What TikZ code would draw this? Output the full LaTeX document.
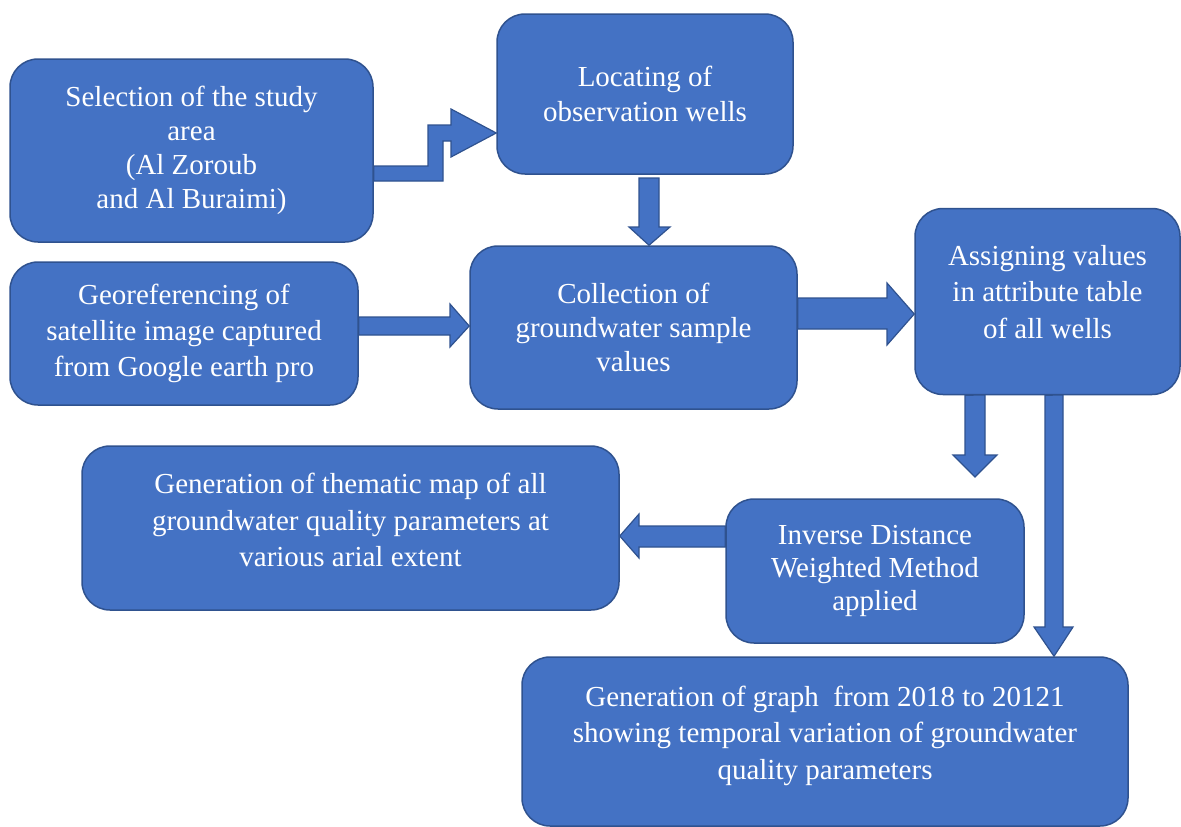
\documentclass[tikz,border=0pt]{standalone}
\usepackage{fontspec}
\setmainfont{Liberation Serif}
\definecolor{boxfill}{HTML}{4472C4}
\definecolor{boxline}{HTML}{2F528F}
\tikzset{
  flowbox/.style={draw=boxline, fill=boxfill, line width=1.5pt, rounded corners=28pt,
    text=white, align=center, inner sep=0pt,
    font=\fontsize{29}{35}\selectfont},
  blockarrow/.style={draw=boxline, fill=boxfill, line width=1.2pt, line join=miter}
}
\begin{document}
\begin{tikzpicture}[x=1pt,y=-1pt]
\useasboundingbox (0,0) rectangle (1181,827);
% boxes
\node[flowbox, minimum width=363pt, minimum height=183pt, font=\fontsize{29}{34}\selectfont] (sel) at (191.5,150.5)
  {Selection of the study\\area\\(Al Zoroub\\and Al Buraimi)};
\node[flowbox, minimum width=296pt, minimum height=160pt] (loc) at (645,94)
  {Locating of\\observation wells};
\node[flowbox, minimum width=348pt, minimum height=143pt, font=\fontsize{29}{36}\selectfont] (geo) at (184,333.5)
  {Georeferencing of\\satellite image captured\\from Google earth pro};
\node[flowbox, minimum width=327pt, minimum height=163pt, font=\fontsize{29}{34}\selectfont] (col) at (633.5,327.5)
  {Collection of\\groundwater sample\\values};
\node[flowbox, minimum width=265pt, minimum height=186pt, text depth=20pt, font=\fontsize{29}{36.5}\selectfont] (asg) at (1047.5,301.5)
  {Assigning values\\in attribute table\\of all wells};
\node[flowbox, minimum width=537pt, minimum height=164pt, text depth=16pt, font=\fontsize{29}{36.5}\selectfont] (the) at (350.5,528)
  {Generation of thematic map of all\\groundwater quality parameters at\\various arial extent};
\node[flowbox, minimum width=298pt, minimum height=144pt, font=\fontsize{29}{33}\selectfont] (idw) at (875,571)
  {Inverse Distance\\Weighted Method\\applied};
\node[flowbox, minimum width=606pt, minimum height=169pt, text depth=18pt, font=\fontsize{29}{36.5}\selectfont] (gra) at (825,741.5)
  {Generation of graph\ \ from 2018 to 20121\\showing temporal variation of groundwater\\quality parameters};
% bent arrow: selection -> locating
\draw[blockarrow] (sel.east |- 0,166) -- (428,166) -- (428,125) -- (451,125) -- (451,109)
  -- (loc.west |- 0,133) -- (451,157) -- (451,141) -- (443,141) -- (443,181) -- (sel.east |- 0,181) -- cycle;
% locating -> collection
\draw[blockarrow] (639,178) -- (659,178) -- (659,227) -- (670,227) -- (col.north -| 649,0)
  -- (629,227) -- (639,227) -- cycle;
% georef -> collection
\draw[blockarrow] (geo.east |- 0,317) -- (450,317) -- (450,304) -- (col.west |- 0,326)
  -- (450,347) -- (450,335) -- (geo.east |- 0,335) -- cycle;
% collection -> assigning
\draw[blockarrow] (col.east |- 0,298) -- (887,298) -- (887,283) -- (asg.west |- 0,314)
  -- (887,345) -- (887,329) -- (col.east |- 0,329) -- cycle;
% assigning -> idw
\draw[blockarrow] (asg.south -| 965,0) -- (985,395) -- (985,455) -- (997,455) -- (975,477)
  -- (953,455) -- (965,455) -- cycle;
% assigning -> graph
\draw[blockarrow] (asg.south -| 1045,0) -- (1063,395) -- (1063,627) -- (1073,627) -- (gra.north -| 1054,0)
  -- (1034,627) -- (1045,627) -- cycle;
% idw -> thematic
\draw[blockarrow] (idw.west |- 0,526) -- (639,526) -- (639,514) -- (the.east |- 0,536)
  -- (639,558) -- (639,547) -- (idw.west |- 0,547) -- cycle;
\end{tikzpicture}
\end{document}
